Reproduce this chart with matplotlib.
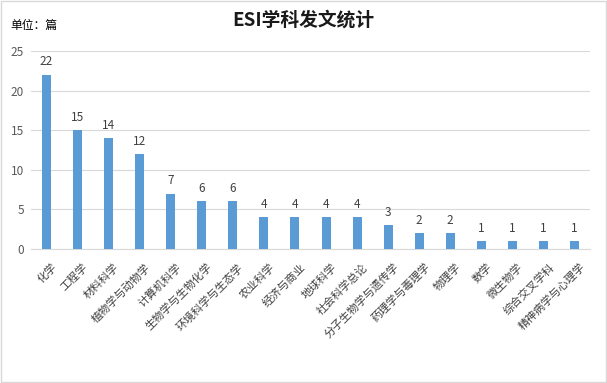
import matplotlib
matplotlib.use("Agg")
import matplotlib.pyplot as plt
from matplotlib.patches import Rectangle

plt.rcParams['font.family'] = ['Noto Sans CJK SC', 'DejaVu Sans']

categories = ["化学", "工程学", "材料科学", "植物学与动物学", "计算机科学", "生物学与生物化学",
              "环境科学与生态学", "农业科学", "经济与商业", "地球科学", "社会科学总论",
              "分子生物学与遗传学", "药理学与毒理学", "物理学", "数学", "微生物学",
              "综合交叉学科", "精神病学与心理学"]
values = [22, 15, 14, 12, 7, 6, 6, 4, 4, 4, 4, 3, 2, 2, 1, 1, 1, 1]
yticks = [0, 5, 10, 15, 20, 25]

fig = plt.figure(figsize=(6.07, 3.83), dpi=100)
ax = fig.add_axes([31/607, 1-249/383, (590-31)/607, (249-51)/383])

x = list(range(len(categories)))
bars = ax.bar(x, values, width=0.29, color='#5B9BD5', zorder=3)
for xi, v in zip(x, values):
    ax.text(xi, v + 0.8, str(v), ha='center', va='bottom', fontsize=8.5, color='#404040')

ax.set_xlim(-0.5, len(categories) - 0.5)
ax.set_ylim(0, 25)
ax.set_yticks(yticks)
ax.set_yticklabels([str(t) for t in yticks], fontsize=8.5, color='#595959')
ax.set_xticks(x)
ax.set_xticklabels(categories, rotation=45, ha='right', rotation_mode='anchor',
                   fontsize=8, color='#404040')
ax.tick_params(axis='x', length=0, pad=9)
ax.tick_params(axis='y', length=0, pad=5)
for lbl in ax.get_xticklabels():
    lbl.set_x(lbl.get_position()[0])
ax.grid(axis='y', color='#D9D9D9', linewidth=0.8, zorder=0)
for s in ['top', 'right', 'left']:
    ax.spines[s].set_visible(False)
ax.spines['bottom'].set_color('#D9D9D9')

import matplotlib.transforms as mtransforms
offset = mtransforms.ScaledTranslation(5/100, 0, fig.dpi_scale_trans)
for lbl in ax.get_xticklabels():
    lbl.set_transform(lbl.get_transform() + offset)

fig.text(0.5, 1-20/383, "ESI学科发文统计", ha='center', va='center', fontsize=13.5,
         fontweight='bold', color='#1a1a1a')
fig.text(10/607, 1-25/383, "单位：篇", ha='left', va='center', fontsize=8.5, color='#000000')

fig.patches.append(Rectangle((0.002, 0.002), 0.996, 0.996, transform=fig.transFigure,
                             fill=False, edgecolor='#D9D9D9', linewidth=1))

fig.savefig('out.png', dpi=100)
